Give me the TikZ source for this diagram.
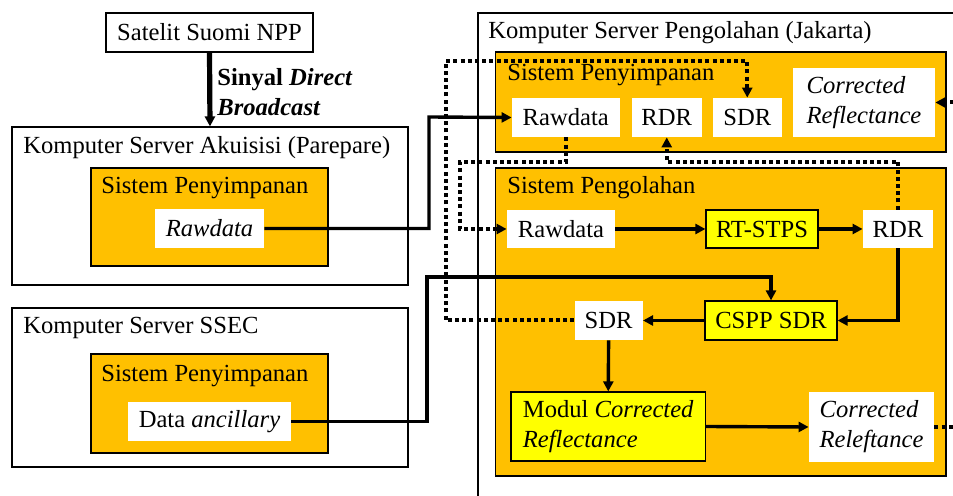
\documentclass[tikz,border=0pt]{standalone}
\usepackage{fontspec}
\setmainfont{LiberationSerif}[Extension=.ttf, UprightFont=*-Regular, BoldFont=*-Bold, ItalicFont=*-Italic, BoldItalicFont=*-BoldItalic]
\usetikzlibrary{arrows.meta}

\definecolor{storeorange}{HTML}{FFC000}
\definecolor{procyellow}{HTML}{FFFF00}

\tikzset{
  server/.style={draw, line width=0.6pt, fill=white, inner sep=0pt},
  storage/.style={draw, line width=0.8pt, fill=storeorange, inner sep=0pt},
  databox/.style={fill=white, inner sep=0pt, align=left},
  procbox/.style={draw, line width=0.6pt, fill=procyellow, inner sep=0pt, align=left},
  boxtitle/.style={anchor=west, inner sep=0pt},
  flow/.style={line width=1.7pt, ->},
  copyflow/.style={line width=2pt, dash pattern=on 2pt off 1.6pt, ->}
}

\begin{document}
\begin{tikzpicture}[x=0.5pt, y=-0.5pt,
    >={Triangle[length=5pt,width=5pt]},
    every node/.style={font=\fontsize{12.3pt}{15pt}\selectfont}]
\useasboundingbox (0,0) rectangle (953,496);
\clip (0,0) rectangle (953,496);

% satellite and receiving station
\node[server, minimum width=103.5pt, minimum height=19.5pt] (sat) at (209.5,32.5) {Satelit Suomi NPP};
\node[server, minimum width=198pt, minimum height=79pt] (akuisisi) at (210,206) {};
\node[boxtitle] (akuTitle) at (23,148) {Komputer Server Akuisisi (Parepare)};
\node[storage, minimum width=118.5pt, minimum height=49pt] (akuStore) at (209.5,217) {};
\node[boxtitle] (akuStoreTitle) at (101,188) {Sistem Penyimpanan};
\node[databox, minimum width=54.5pt, minimum height=19.5pt] (akuRaw) at (209.5,228.5) {\textit{Rawdata}};

% SSEC
\node[server, minimum width=198pt, minimum height=79.5pt] (ssec) at (210,387.5) {};
\node[boxtitle] (ssecTitle) at (23,328) {Komputer Server SSEC};
\node[storage, minimum width=118.5pt, minimum height=49.5pt] (ssecStore) at (209.5,403.5) {};
\node[boxtitle] (ssecStoreTitle) at (101,376) {Sistem Penyimpanan};
\node[databox, minimum width=81.5pt, minimum height=19.5pt] (anc) at (209.5,421.5) {Data \textit{ancillary}};

% Jakarta server
\node[server, minimum width=261pt, minimum height=253.5pt] (jkt) at (739,266.5) {};
\node[boxtitle] (jktTitle) at (488,33) {Komputer Server Pengolahan (Jakarta)};
\node[storage, minimum width=225.25pt, minimum height=50pt] (jktStore) at (720.75,102) {};
\node[boxtitle] (jktStoreTitle) at (507,75) {Sistem Penyimpanan};
\node[databox, minimum width=53.75pt, minimum height=19.5pt] (jRaw) at (565.75,117.5) {Rawdata};
\node[databox, minimum width=35.25pt, minimum height=19.5pt] (jRdr) at (666.75,117.5) {RDR};
\node[databox, minimum width=34.25pt, minimum height=19.5pt] (jSdr) at (747.25,117.5) {SDR};
\node[databox, minimum width=71pt, minimum height=34.5pt] (jCR) at (864,102.5) {\textit{Corrected}\\\textit{Reflectance}};

\node[storage, minimum width=225.25pt, minimum height=154pt] (proc) at (720.75,322) {};
\node[boxtitle] (procTitle) at (507,188) {Sistem Pengolahan};
\node[databox, minimum width=54pt, minimum height=19pt] (pRaw) at (561,229) {Rawdata};
\node[procbox, minimum width=56pt, minimum height=19pt] (rtstps) at (762,229) {RT-STPS};
\node[databox, minimum width=35pt, minimum height=19pt] (pRdr) at (898,229) {RDR};
\node[databox, minimum width=34pt, minimum height=19.5pt] (pSdr) at (608.6,320.5) {SDR};
\node[procbox, minimum width=66pt, minimum height=19.5pt] (cspp) at (771,320.5) {CSPP SDR};
\node[procbox, minimum width=97.25pt, minimum height=34.5pt] (modul) at (608.25,426.5) {Modul \textit{Corrected}\\\textit{Reflectance}};
\node[databox, minimum width=62.5pt, minimum height=35pt] (pCR) at (871.5,427) {\textit{Corrected}\\\textit{Releftance}};

% bends
\coordinate (bendA) at (429,117);
\coordinate (bendB) at (427,277);
\coordinate (bendC) at (460,162);
\coordinate (bendE) at (445.5,61);

% downlink
\draw[flow, line width=2.6pt] (sat.south) -- (akuisisi.north);
\node[anchor=west, inner sep=0pt, align=left] (sinyal) at (217,92)
    {\textbf{Sinyal \textit{Direct}}\\\textbf{\textit{Broadcast}}};

% solid data flow
\draw[flow] (akuRaw.east) -| (bendA) -- (jRaw.west);
\draw[flow] (anc.east) -| (bendB) -| (cspp.north);
\draw[flow] (pRaw.east) -- (rtstps.west);
\draw[flow] (rtstps.east) -- (pRdr.west);
\draw[flow] (pRdr.south) |- (cspp.east);
\draw[flow] (cspp.west) -- (pSdr.east);
\draw[flow] (pSdr.south) -- (modul.north);
\draw[flow] (modul.east) -- (pCR.west);

% storage copies
\draw[copyflow] (jRaw.south) |- (bendC) |- (pRaw.west);
\draw[copyflow] (pRdr.north) -- ++(0,-48) -| (jRdr.south);
\draw[copyflow] (pSdr.west) -| (bendE) -| (jSdr.north);
\draw[copyflow] (pCR.east) -- ++(31,0) |- (jCR.east);
\end{tikzpicture}
\end{document}
